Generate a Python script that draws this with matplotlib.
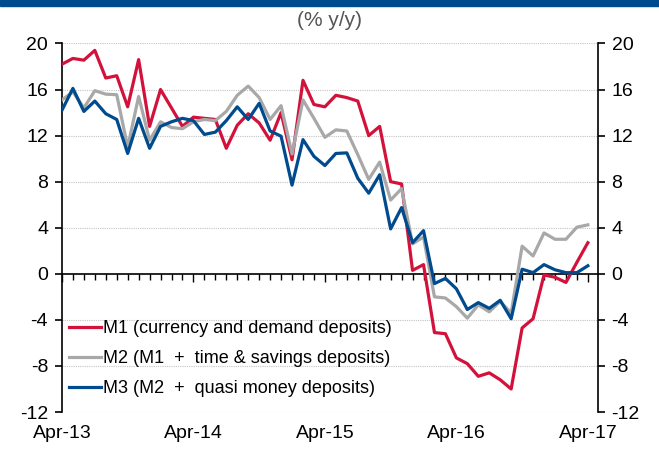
import numpy as np
import matplotlib.pyplot as plt
from matplotlib.patches import Rectangle
from matplotlib.ticker import MultipleLocator

plt.rcParams['font.family'] = ['Liberation Sans', 'DejaVu Sans']
plt.rcParams['axes.unicode_minus'] = False

# months since Apr-13
months = np.arange(49)
tick_pos = [0, 12, 24, 36, 48]
tick_labels = ['Apr-13', 'Apr-14', 'Apr-15', 'Apr-16', 'Apr-17']

m1 = [18.2, 18.7, 18.55, 19.4, 17.0, 17.2, 14.5, 18.6, 12.8, 16.0,
      14.4, 12.8, 13.6, 13.5, 13.4, 10.9, 12.9, 13.9, 13.1, 11.6,
      14.0, 9.9, 16.8, 14.7, 14.5, 15.5, 15.3, 15.0, 12.0, 12.8,
      8.0, 7.8, 0.3, 0.8, -5.1, -5.2, -7.3, -7.8, -8.9, -8.6,
      -9.2, -10.0, -4.7, -3.9, -0.1, -0.3, -0.75, 1.0, 2.7]
m2 = [15.1, 15.8, 14.4, 15.9, 15.6, 15.55, 11.0, 15.4, 11.6, 13.2,
      12.7, 12.6, 13.2, 13.4, 13.3, 14.1, 15.5, 16.3, 15.3, 13.4,
      14.6, 10.4, 15.1, 13.5, 11.85, 12.5, 12.4, 10.35, 8.2, 9.7,
      6.4, 7.4, 2.6, 3.2, -2.0, -2.1, -2.85, -3.85, -2.7, -3.3,
      -2.4, -3.4, 2.4, 1.55, 3.55, 3.0, 3.0, 4.05, 4.25]
m3 = [14.2, 16.1, 14.1, 15.0, 13.9, 13.4, 10.45, 13.5, 10.9, 12.8,
      13.2, 13.5, 13.3, 12.1, 12.3, 13.3, 14.5, 13.4, 14.8, 12.4,
      11.95, 7.7, 11.65, 10.2, 9.4, 10.45, 10.5, 8.3, 7.0, 8.6,
      3.9, 5.75, 2.7, 3.75, -0.85, -0.4, -1.3, -3.1, -2.5, -3.0,
      -2.3, -3.9, 0.4, 0.1, 0.8, 0.35, 0.1, 0.1, 0.7]

names = ['M1 (currency and demand deposits)',
         'M2 (M1  +  time & savings deposits)',
         'M3 (M2  +  quasi money deposits)']
colors = ['#D3123C', '#A8A8A8', '#004B8D']

fig = plt.figure(figsize=(6.59, 4.5), dpi=100)
ax = fig.add_axes([0.094, 0.0844, 0.813, 0.819])

for y, name, c in zip([m1, m2, m3], names, colors):
    ax.plot(months, y, color=c, lw=2.3, label=name, zorder=3)

ax.set_xlim(0, 48.9)
ax.set_ylim(-12, 20)
ax.yaxis.set_major_locator(MultipleLocator(4))
for v in range(-12, 21, 4):
    if v != 0:
        ax.axhline(v, color='#C4C4C4', lw=0.8, ls=(0, (1, 1)), zorder=1)

ax.spines['top'].set_visible(False)
ax.spines['bottom'].set_position(('data', 0))
ax.spines['bottom'].set_linewidth(1.2)
ax.spines['left'].set_linewidth(1.2)
ax.spines['right'].set_linewidth(1.2)
ax.set_xticks(tick_pos)
ax.xaxis.set_minor_locator(MultipleLocator(1))
ax.tick_params(axis='x', which='major', direction='out', length=6, width=1, labelbottom=False)
ax.tick_params(axis='x', which='minor', direction='out', length=4, width=1)
ax.tick_params(axis='y', direction='out', length=5, width=1.2, labelsize=14,
               left=True, right=True, labelleft=True, labelright=True, pad=5)

sec = ax.secondary_xaxis('bottom')
sec.spines['bottom'].set_visible(False)
sec.set_xticks(tick_pos)
sec.set_xticklabels(tick_labels)
sec.tick_params(length=0, labelsize=14, pad=9)

leg = ax.legend(loc='lower left', bbox_to_anchor=(0.0, 0.02), frameon=False,
                fontsize=13, handlelength=1.75, handletextpad=0.1, labelspacing=0.72,
                borderaxespad=0)

fig.patches.append(Rectangle((0, 1 - 6 / 450), 1, 6 / 450, transform=fig.transFigure,
                             color='#004B8D', zorder=0))
fig.text(0.5, 0.954, '(% y/y)', ha='center', va='center', fontsize=15, color='#555555')

fig.savefig('out.png', dpi=100)
